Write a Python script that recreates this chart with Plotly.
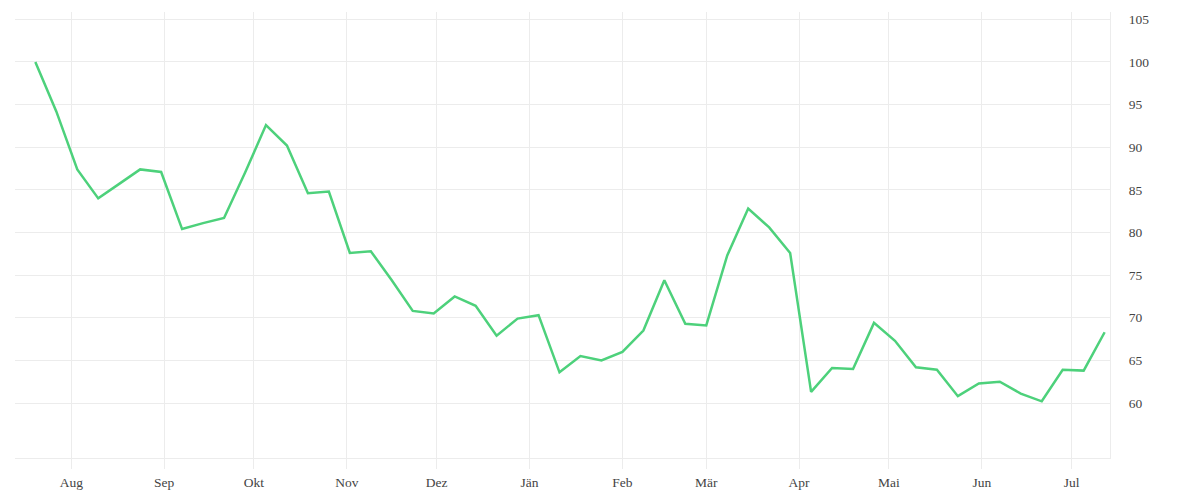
import plotly.graph_objects as go
import pandas as pd

start_date = "2018-07-20"
n_weeks = 52
values = [
    100.0, 94.2, 87.4, 84.0, 85.7, 87.4, 87.1, 80.4, 81.1, 81.7,
    87.0, 92.6, 90.2, 84.6, 84.8, 77.6, 77.8, 74.4, 70.8, 70.5,
    72.5, 71.4, 67.9, 69.9, 70.3, 63.6, 65.5, 65.0, 66.0, 68.5,
    74.4, 69.3, 69.1, 77.3, 82.8, 80.6, 77.6, 61.3, 64.1, 64.0,
    69.4, 67.3, 64.2, 63.9, 60.8, 62.3, 62.5, 61.1, 60.2, 63.9,
    63.8, 68.3,
]
dates = pd.date_range(start_date, periods=n_weeks, freq="7D")

month_ticks = ["2018-08-01", "2018-09-01", "2018-10-01", "2018-11-01", "2018-12-01",
               "2019-01-01", "2019-02-01", "2019-03-01", "2019-04-01", "2019-05-01",
               "2019-06-01", "2019-07-01"]
month_labels = ["Aug", "Sep", "Okt", "Nov", "Dez", "Jän", "Feb", "Mär", "Apr", "Mai", "Jun", "Jul"]
y_ticks = [60, 65, 70, 75, 80, 85, 90, 95, 100, 105]

grid = "#ececec"
fig = go.Figure(go.Scatter(
    x=dates, y=values, mode="lines",
    line=dict(color="#4dd17b", width=2.5),
    hoverinfo="skip",
))
fig.update_layout(
    width=1200, height=500,
    margin=dict(l=7, r=98, t=4, b=50),
    paper_bgcolor="white", plot_bgcolor="white",
    showlegend=False,
    font=dict(family="Liberation Serif", size=13.5, color="#444"),
    xaxis=dict(
        range=["2018-07-13 05:00", "2019-07-13 19:00"],
        tickvals=month_ticks, ticktext=month_labels,
        showgrid=True, gridcolor=grid, gridwidth=1,
        ticks="outside", ticklen=10, tickcolor=grid,
        showline=True, linecolor=grid, linewidth=1,
        zeroline=False, ticklabelstandoff=2,
    ),
    yaxis=dict(
        side="right", range=[53.55, 105.86],
        tickvals=y_ticks,
        showgrid=True, gridcolor=grid, gridwidth=1,
        ticks="", showline=True, linecolor=grid, linewidth=1,
        zeroline=False, ticklabelstandoff=15,
    ),
)
fig.write_html("out.html")
